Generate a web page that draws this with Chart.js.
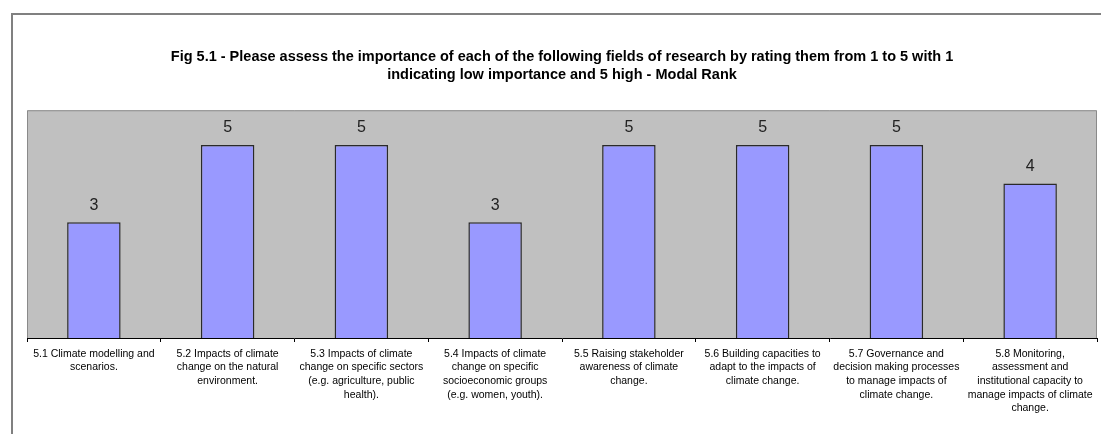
<!DOCTYPE html>
<html>
<head>
<meta charset="utf-8">
<script src="https://cdn.jsdelivr.net/npm/chart.js@4"></script>
<style>
  html, body { margin: 0; padding: 0; background: #fff; }
  #frame { position: absolute; left: 11px; top: 13px; width: 1090px; height: 421px;
           border-left: 2px solid #808080; border-top: 2px solid #808080; }
  #wrap { position: absolute; left: 0; top: 0; width: 1101px; height: 434px; }
</style>
</head>
<body>
<div id="frame"></div>
<div id="wrap"><canvas id="myChart" width="1101" height="434"></canvas></div>
<script>
var titleLines = [
    'Fig 5.1 - Please assess the importance of each of the following fields of research by rating them from 1 to 5 with 1',
    'indicating low importance and 5 high - Modal Rank'
];
var categories = [
    ['5.1 Climate modelling and', 'scenarios.'],
    ['5.2 Impacts of climate', 'change on the natural', 'environment.'],
    ['5.3 Impacts of climate', 'change on specific sectors', '(e.g. agriculture, public', 'health).'],
    ['5.4 Impacts of climate', 'change on specific', 'socioeconomic groups', '(e.g. women, youth).'],
    ['5.5 Raising stakeholder', 'awareness of climate', 'change.'],
    ['5.6 Building capacities to', 'adapt to the impacts of', 'climate change.'],
    ['5.7 Governance and', 'decision making processes', 'to manage impacts of', 'climate change.'],
    ['5.8 Monitoring,', 'assessment and', 'institutional capacity to', 'manage impacts of climate', 'change.']
];
var modalRank = [3, 5, 5, 3, 5, 5, 5, 4];

// grey plot area like the old Excel chart
var plotBackground = {
    id: 'plotBackground',
    beforeDraw: function (chart) {
        var a = chart.chartArea, ctx = chart.ctx;
        ctx.save();
        ctx.fillStyle = '#c0c0c0';
        ctx.fillRect(a.left, a.top, a.right - a.left, a.bottom - a.top);
        ctx.strokeStyle = '#8a8a8a';
        ctx.lineWidth = 1;
        ctx.beginPath();
        ctx.moveTo(a.left + 0.5, a.bottom);
        ctx.lineTo(a.left + 0.5, a.top + 0.5);
        ctx.lineTo(a.right - 0.5, a.top + 0.5);
        ctx.lineTo(a.right - 0.5, a.bottom);
        ctx.stroke();
        ctx.restore();
    }
};

// value labels above each bar
var valueLabels = {
    id: 'valueLabels',
    afterDatasetsDraw: function (chart) {
        var ctx = chart.ctx;
        var meta = chart.getDatasetMeta(0);
        ctx.save();
        ctx.font = '16px "Liberation Sans", Arial, sans-serif';
        ctx.fillStyle = '#222';
        ctx.textAlign = 'center';
        ctx.textBaseline = 'middle';
        meta.data.forEach(function (bar, i) {
            ctx.fillText(String(modalRank[i]), bar.x, bar.y - 17);
        });
        ctx.restore();
    }
};

var ctx = document.getElementById('myChart').getContext('2d');
new Chart(ctx, {
    type: 'bar',
    data: {
        labels: categories,
        datasets: [{
            label: 'Modal Rank',
            data: modalRank,
            backgroundColor: '#9999ff',
            borderColor: '#2a2a2a',
            borderWidth: 1.5,
            borderSkipped: 'bottom',
            categoryPercentage: 1,
            barPercentage: 0.4
        }]
    },
    options: {
        responsive: false,
        animation: false,
        layout: { padding: { left: 27, right: 4, top: 0, bottom: 0 } },
        plugins: {
            legend: { display: false },
            tooltip: { enabled: false },
            title: {
                display: true,
                text: titleLines,
                color: '#000',
                font: { family: '"Liberation Sans", Arial, sans-serif', size: 14.5, weight: 'bold', lineHeight: 1.25 },
                padding: { top: 48, bottom: 26 }
            }
        },
        scales: {
            x: {
                afterFit: function (scale) { scale.height = 96; },
                grid: { display: true, offset: true, drawOnChartArea: false, color: '#000', tickLength: 4 },
                border: { display: true, color: '#000', width: 1 },
                ticks: {
                    autoSkip: false,
                    maxRotation: 0,
                    minRotation: 0,
                    padding: 5,
                    color: '#000',
                    font: { family: '"Liberation Sans", Arial, sans-serif', size: 10.5, lineHeight: 1.3 }
                }
            },
            y: {
                display: false,
                min: 0,
                max: 5.9
            }
        }
    },
    plugins: [plotBackground, valueLabels]
});
</script>
</body>
</html>
